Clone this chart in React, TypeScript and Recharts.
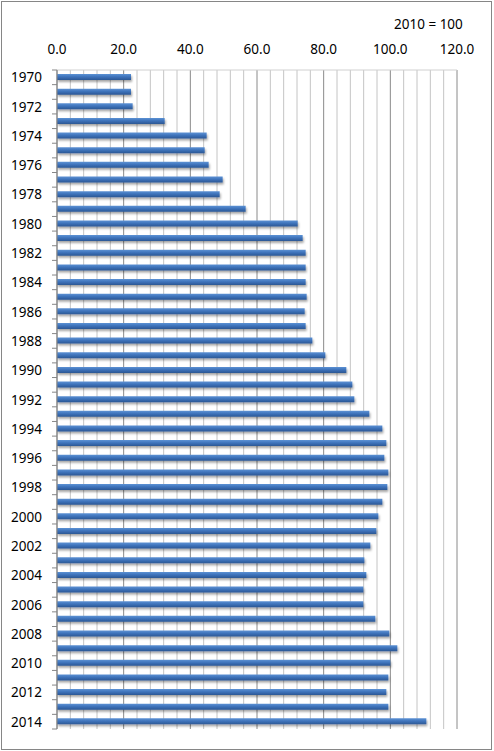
import React from "react";
import { Bar, BarChart, CartesianGrid, XAxis, YAxis } from "recharts";

const years = [
  "1970", "1971", "1972", "1973", "1974", "1975", "1976", "1977", "1978", "1979",
  "1980", "1981", "1982", "1983", "1984", "1985", "1986", "1987", "1988", "1989",
  "1990", "1991", "1992", "1993", "1994", "1995", "1996", "1997", "1998", "1999",
  "2000", "2001", "2002", "2003", "2004", "2005", "2006", "2007", "2008", "2009",
  "2010", "2011", "2012", "2013", "2014"
];

const index2010 = [
  22.2, 22.2, 22.7, 32.3, 44.9, 44.3, 45.5, 49.7, 48.8, 56.6,
  72.2, 73.7, 74.6, 74.6, 74.6, 74.9, 74.3, 74.6, 76.6, 80.5,
  86.8, 88.6, 89.2, 93.7, 97.6, 98.8, 98.2, 99.4, 99.1, 97.6,
  96.4, 95.8, 94.0, 92.2, 92.8, 91.9, 91.9, 95.5, 99.7, 102.1,
  100.0, 99.4, 98.8, 99.4, 110.8
];

// every 4 units a light gridline, every 20 a dark one with a label
const gridTicks = [
  0, 4, 8, 12, 16, 20, 24, 28, 32, 36, 40, 44, 48, 52, 56, 60,
  64, 68, 72, 76, 80, 84, 88, 92, 96, 100, 104, 108, 112, 116, 120
];

const data = years.map((year, i) => ({ year, value: index2010[i] }));

const FONT = "'Noto Sans', 'Open Sans', sans-serif";
const W = 494;
const H = 751;
const PLOT_TOP = 70;
const PLOT_BOTTOM = 729;
const BAND = (PLOT_BOTTOM - PLOT_TOP) / years.length;

// year labels on every other row, tick marks between rows (Excel style)
function YearTick(props: any) {
  const { x, y, payload, index } = props;
  const showLabel = index % 2 === 0;
  const last = index === years.length - 1;
  return (
    <g>
      <line x1={x - 5} x2={x} y1={y - BAND / 2} y2={y - BAND / 2} stroke="#868686" />
      {last && (
        <line x1={x - 5} x2={x} y1={y + BAND / 2} y2={y + BAND / 2} stroke="#868686" />
      )}
      {showLabel && (
        <text
          x={x - 15}
          y={y}
          textAnchor="end"
          dominantBaseline="central"
          fontSize={13.5}
          fontWeight={400}
          fontFamily={FONT}
          fill="#000"
          stroke="none"
        >
          {payload.value}
        </text>
      )}
    </g>
  );
}

function ValueTick(props: any) {
  const { x, y, payload } = props;
  if (payload.value % 20 !== 0) return <g />;
  return (
    <text
      x={x}
      y={y}
      textAnchor="middle"
      fontSize={13.5}
      fontFamily={FONT}
      fill="#000"
      stroke="none"
    >
      {Number(payload.value).toFixed(1)}
    </text>
  );
}

function GridLine(props: any) {
  const { x1, x2, y1, y2, index } = props;
  const major = index % 5 === 0;
  return (
    <line
      x1={x1}
      x2={x2}
      y1={y1}
      y2={y2}
      stroke={major ? "#8a8a8a" : "#c4c4c4"}
      strokeWidth={1}
    />
  );
}

export default function App() {
  return (
    <div style={{ position: "absolute", left: 0, top: 0, width: W, height: H, background: "#fff" }}>
      <div
        style={{
          position: "absolute",
          left: 1,
          top: 1,
          width: 489,
          height: 747,
          border: "1px solid #868686"
        }}
      />
      <div
        style={{
          position: "absolute",
          left: 394,
          top: 16,
          fontFamily: FONT,
          fontSize: 13.5,
          lineHeight: "16px",
          color: "#000"
        }}
      >
        2010 = 100
      </div>
      <BarChart
        width={W}
        height={H}
        data={data}
        layout="vertical"
        margin={{ top: PLOT_TOP - 30, right: 37, bottom: H - PLOT_BOTTOM, left: 0 }}
        barCategoryGap={0}
      >
        <defs>
          <linearGradient id="barFill" x1="0" y1="0" x2="0" y2="1">
            <stop offset="0%" stopColor="#5d92d4" />
            <stop offset="45%" stopColor="#3f74bc" />
            <stop offset="100%" stopColor="#2b5794" />
          </linearGradient>
          <filter id="barShadow" x="-5%" y="-50%" width="110%" height="250%">
            <feDropShadow dx="1" dy="2" stdDeviation="1" floodColor="#000" floodOpacity="0.35" />
          </filter>
        </defs>
        <CartesianGrid horizontal={false} vertical={(p: any) => <GridLine {...p} />} />
        <XAxis
          type="number"
          orientation="top"
          domain={[0, 120]}
          ticks={gridTicks}
          interval={0}
          height={30}
          tickLine={false}
          tickSize={0}
          tickMargin={16}
          axisLine={{ stroke: "#d0d0d0" }}
          tick={<ValueTick />}
        />
        <YAxis
          type="category"
          dataKey="year"
          width={57}
          interval={0}
          tickLine={false}
          tickSize={0}
          tickMargin={0}
          axisLine={{ stroke: "#868686" }}
          tick={<YearTick />}
        />
        <Bar
          dataKey="value"
          barSize={6}
          fill="url(#barFill)"
          filter="url(#barShadow)"
          isAnimationActive={false}
        />
      </BarChart>
    </div>
  );
}
